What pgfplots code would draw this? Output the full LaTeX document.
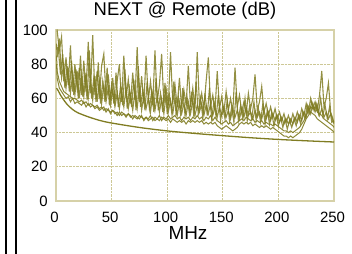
\documentclass[border=0pt]{standalone}
\usepackage{pgfplots}
\pgfplotsset{compat=1.18}
\usepackage{pgfplotstable}
\usepackage{fontspec}
\setmainfont{Liberation Sans}
\definecolor{olivedat}{RGB}{128,124,34}
\definecolor{gridc}{RGB}{205,200,150}
\definecolor{framec}{RGB}{214,209,168}

\pgfplotstableread{
f a b c d
0.5 100 92 85 80
1 100 84 76 72
3 88 95 70 66
5 96 72 67 64
7 70 80 64 62
9 84 66 63 60
11 68 78 62 61
13 91 63 61 58
15 64 74 60 60
17 80 62 60 57
19 66 76 59 58
21 78 60 58 57
23 62 72 59 56
25 82 61 57 58
27 64 75 58 55
29 93 60 56 57
31 63 71 57 55
33 97 59 56 56
35 62 73 55 54
37 76 58 56 55
39 60 70 54 53
41 79 57 55 54
43 86 68 53 55
45 61 58 54 52
47 74 66 53 54
49 59 56 52 51
51 72 65 53 53
53 58 55 51 52
55 70 63 52 50
57 80 54 50 52
59 58 64 52 50
61 85 55 51 51
63 60 66 50 49
65 71 54 51 51
67 57 62 49 50
69 75 53 50 48
71 59 64 49 50
73 90 54 48 49
75 58 67 50 48
77 73 53 49 50
79 57 62 48 47
81 85 54 49 49
83 59 60 47 48
85 70 52 48 50
87 56 63 49 47
89 88 53 47 49
91 58 61 48 48
93 68 52 47 50
95 86 60 49 47
97 57 51 48 49
99 66 62 47 48
101 56 52 48 50
103 87 59 46 48
105 57 51 48 49
107 68 60 47 50
109 55 50 46 48
111 72 58 47 49
113 54 51 46 47
115 65 57 47 49
117 56 50 45 48
119 79 58 47 49
121 55 51 46 47
123 66 59 47 49
125 54 50 46 48
127 87 56 47 50
129 56 52 46 48
131 63 57 47 49
133 54 50 45 47
135 70 56 46 49
137 84 51 45 48
139 55 57 46 50
141 62 50 45 47
143 53 55 46 49
145 76 49 44 47
147 54 55 43 46
149 61 50 42 45
151 52 54 43 46
153 64 49 44 47
155 53 53 43 45
157 60 48 42 46
159 52 54 41 44
161 78 49 42 45
163 55 53 43 46
165 62 48 45 47
167 52 54 46 48
169 58 49 45 47
171 51 55 46 49
173 63 50 45 48
175 54 52 46 47
177 60 48 44 48
179 74 53 45 46
181 53 49 44 47
183 58 52 43 46
185 67 48 44 47
187 52 53 43 45
189 57 48 44 46
191 50 52 43 45
193 55 47 42 45
195 49 51 43 44
197 54 47 42 45
199 48 50 41 44
201 52 46 40 43
203 47 49 39 42
205 51 45 38 41
207 46 48 38 41
209 50 45 37 40
211 46 48 38 41
213 51 45 37 40
215 47 49 38 41
217 52 46 39 42
219 48 50 40 43
221 54 47 42 45
223 50 52 45 47
225 57 49 48 50
227 52 55 50 53
229 60 51 52 55
231 54 57 51 54
233 58 52 50 55
235 53 56 48 52
237 62 50 47 51
239 76 54 46 50
241 55 49 45 48
243 60 52 44 47
245 69 48 43 46
247 52 51 42 45
249 48 47 41 44
250 45 46 40 43
}\datatab

\pgfplotstableread{
f e
2 90
4 74
6 86
8 66
10 79
12 64
14 82
16 62
18 77
20 60
22 85
24 61
26 74
28 59
30 88
32 60
34 72
36 58
38 81
40 57
42 70
44 58
46 78
48 56
50 68
52 57
54 75
56 55
58 67
60 56
62 77
64 54
66 66
68 55
70 71
72 53
74 79
76 55
78 65
80 53
82 70
84 54
86 64
88 52
90 72
92 53
94 63
96 52
98 69
100 51
102 62
104 52
106 70
108 50
110 61
112 51
114 66
116 50
118 60
120 51
122 64
124 49
126 70
128 50
130 60
132 49
134 63
136 50
138 66
140 48
142 58
144 49
146 62
148 47
150 56
152 48
154 59
156 47
158 55
160 46
162 64
164 47
166 56
168 48
170 60
172 47
174 55
176 48
178 58
180 47
182 54
184 46
186 57
188 45
190 53
192 45
194 52
196 44
198 50
200 44
202 49
204 43
206 48
208 42
210 47
212 43
214 48
216 44
218 50
220 45
222 52
224 48
226 56
228 52
230 58
232 53
234 57
236 51
238 60
240 50
242 56
244 48
246 55
248 46
250 47
}\etab

\pgfplotstableread{
f lim
0.5 66
1 65.5
2 64.5
4 62
6 60
10 56.5
15 53.5
20 51.5
30 49
40 47
50 45.6
75 43
100 41
125 39.5
150 38.2
175 37
200 36
225 35.2
250 34.5
}\limtab

\begin{document}
\begin{tikzpicture}[x=1bp,y=1bp]
\path[use as bounding box] (0,0) rectangle (352,254);
\draw[black, line width=1.2bp] (6,0) -- (6,254);
\draw[black, line width=1.2bp] (16,0) -- (16,254);
\begin{axis}[
  at={(56bp,53bp)}, anchor=south west,
  scale only axis, width=278bp, height=171bp,
  xmin=0, xmax=250, ymin=0, ymax=100,
  xtick={0,50,100,150,200,250},
  ytick={0,20,40,60,80,100},
  major tick length=0pt,
  axis line style={draw=framec, line width=1.5bp},
  grid=major,
  grid style={gridc, densely dotted, line width=0.8bp},
  tick label style={font=\fontsize{15}{17}\selectfont, /pgf/number format/assume math mode=true},
  yticklabel style={inner sep=0pt, xshift=-8bp},
  xticklabel style={inner sep=0pt, yshift=-11bp, xshift=-1.5bp},
  title={NEXT @ Remote (dB)},
  title style={font=\fontsize{18.5}{21}\selectfont, at={(0.5,1)}, anchor=south, inner sep=0pt, yshift=5bp, xshift=-10bp},
  xlabel={MHz},
  xlabel style={font=\fontsize{19}{21}\selectfont, at={(0.5,0)}, anchor=north, inner sep=0pt, yshift=-25bp, xshift=-7bp},
  clip=true,
]
\addplot[olivedat, line width=1.1bp, opacity=0.85] table[x=f, y=e] {\etab};
\addplot[olivedat, line width=1.1bp, opacity=0.85] table[x=f, y=a] {\datatab};
\addplot[olivedat, line width=1.1bp, opacity=0.85] table[x=f, y=b] {\datatab};
\addplot[olivedat, line width=1bp, opacity=0.9] table[x=f, y=c] {\datatab};
\addplot[olivedat, line width=1bp, opacity=0.9] table[x=f, y=d] {\datatab};
\addplot[olivedat, line width=1.3bp, smooth] table[x=f, y=lim] {\limtab};
\end{axis}
\end{tikzpicture}
\end{document}
